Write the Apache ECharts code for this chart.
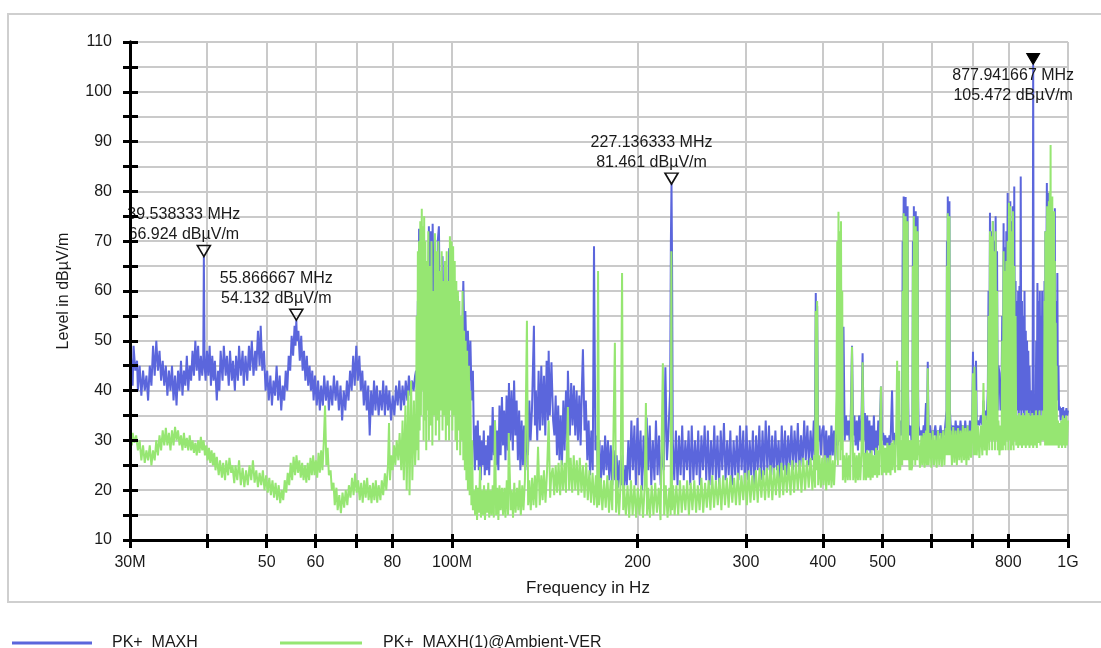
<!DOCTYPE html>
<html><head><meta charset="utf-8">
<script src="https://cdn.jsdelivr.net/npm/echarts@6/dist/echarts.min.js"></script>
<style>html,body{margin:0;padding:0;background:#fff}#c{width:1101px;height:648px}</style>
</head><body><div id="c"></div>
<script>
// ---------- axis ticks ----------
const xGridValues = [30,40,50,60,70,80,100,200,300,400,500,600,700,800,1000];
const xLabelValues = [30,50,60,80,100,200,300,400,500,800,1000];
const xLabelNames = ['30M','50','60','80','100M','200','300','400','500','800','1G'];
const yMin = 10, yMax = 110, yStep = 5;

// ---------- series names ----------
const seriesNames = ['PK+  MAXH', 'PK+  MAXH(1)@Ambient-VER'];

// ---------- markers (on PK+ MAXH) ----------
const markerFreqMHz = [39.538333, 55.866667, 227.136333, 877.941667];
const markerLevel = [66.924, 54.132, 81.461, 105.472];

// ---------- PK+ MAXH, [MHz, dBµV/m] ----------
const blueBand1 = [[30.0,43],[30.1,47],[30.3,41],[30.4,49],[30.6,44],[30.8,46],[30.9,40],[31.1,45],[31.3,39],[31.5,44],[31.7,40],[31.9,43],[32.1,38],[32.3,45],[32.5,41],[32.7,49],[32.9,43],[33.1,50],[33.3,44],[33.5,48],[33.7,42],[33.9,46],[34.1,41],[34.3,45],[34.5,39],[34.7,44],[34.9,40],[35.1,45],[35.3,38],[35.5,43],[35.7,37],[35.9,44],[36.1,40],[36.3,46],[36.5,39],[36.7,44],[36.9,41],[37.1,47],[37.3,40],[37.5,45],[37.7,42],[37.9,48],[38.1,43],[38.3,50],[38.5,44],[38.7,49],[38.9,42],[39.1,47],[39.3,43],[39.45,46],[39.538333,66.924],[39.65,45],[39.8,42],[40.0,48],[40.2,43],[40.4,49],[40.6,41],[40.8,47],[41.0,42],[41.2,46],[41.5,38],[41.7,44],[41.9,40],[42.1,48],[42.4,42],[42.6,49],[42.9,43],[43.1,47],[43.4,41],[43.6,48],[43.9,42],[44.1,46],[44.4,40],[44.6,47],[44.9,42],[45.1,49],[45.4,43],[45.7,48],[45.9,41],[46.2,47],[46.5,42],[46.8,49],[47.0,44],[47.3,50],[47.6,43],[47.9,48],[48.1,44],[48.4,52],[48.7,45],[48.9,53],[49.2,44],[49.5,48],[49.8,40],[50.1,44],[50.4,38],[50.7,43],[51.0,37],[51.3,42],[51.6,39],[51.9,45],[52.2,38],[52.5,43],[52.8,36],[53.1,41],[53.4,38],[53.7,44],[54.0,40],[54.3,47],[54.6,44],[54.9,51],[55.2,47],[55.5,53],[55.7,49],[55.866667,54.132],[56.0,50],[56.3,52],[56.6,46],[56.9,51],[57.2,44],[57.5,48],[57.8,42],[58.1,47],[58.4,41],[58.7,45],[59.0,40],[59.3,44],[59.6,38],[59.9,43],[60.3,37],[60.6,42],[61.0,36],[61.3,41],[61.7,37],[62.0,43],[62.4,38],[62.8,42],[63.1,36],[63.5,41],[63.9,37],[64.3,43],[64.7,38],[65.1,42],[65.5,36],[65.9,41],[66.3,34],[66.7,40],[67.1,36],[67.5,42],[67.9,38],[68.3,44],[68.7,40],[69.1,47],[69.5,41],[69.9,49],[70.3,42],[70.7,47],[71.1,40],[71.5,44],[71.9,37],[72.3,42],[72.7,36],[73.1,41],[73.5,31],[73.9,40],[74.3,35],[74.7,42],[75.1,36],[75.5,41],[76.0,35],[76.4,40],[76.9,36],[77.3,42],[77.8,35],[78.2,41],[78.7,36],[79.1,40],[79.6,34],[80.1,39],[80.6,35],[81.1,41],[81.6,37],[82.1,42],[82.6,36],[83.1,41],[83.6,37],[84.1,42],[84.6,38],[85.1,43],[85.6,39],[86.1,42],[86.6,40],[87.1,43]];
const blueFM = [[87.4,44],[87.7,40],[88.0,58],[88.2,46],[88.4,72.5],[88.6,60],[88.8,44],[89.0,70],[89.3,62],[89.5,42],[89.8,66],[90.1,45],[90.4,60],[90.7,41],[91.0,55],[91.3,44],[91.7,73],[92.0,52],[92.3,72],[92.6,46],[93.0,73.5],[93.3,60],[93.6,42],[94.0,62],[94.4,45],[94.8,70],[95.2,73],[95.5,58],[95.8,44],[96.2,60],[96.5,67],[96.9,48],[97.3,55],[97.7,42],[98.1,58],[98.5,48],[98.9,68.6],[99.3,64],[99.7,44],[100.1,66],[100.5,50],[100.9,40],[101.3,56],[101.7,46],[102.1,59],[102.5,52],[102.9,44],[103.3,55],[103.8,48],[104.3,62],[104.7,50],[105.1,56],[105.6,45],[106.1,52],[106.6,42],[107.1,50],[107.6,38],[108.1,44]];
const blueBand2 = [[108.5,30],[108.9,24],[109.3,33],[109.7,26],[110.1,34],[110.5,24],[110.9,31],[111.3,22],[111.7,30],[112.1,25],[112.6,32],[113.0,23],[113.5,29],[113.9,24],[114.4,31],[114.9,23],[115.4,33],[115.9,26],[116.4,36.7],[116.9,27],[117.4,34],[117.9,25],[118.4,32],[118.9,24],[119.4,37],[119.9,27],[120.5,38.7],[121.0,29],[121.5,36],[122.1,26],[122.6,39],[123.2,28],[123.7,41.5],[124.3,30],[124.9,40],[125.5,28],[126.1,42],[126.7,31],[127.3,38],[127.9,26],[128.5,36],[129.1,24],[129.7,34],[130.3,25],[130.9,33],[131.5,24],[132.2,35],[132.8,27],[133.5,38],[134.1,30],[134.8,36],[135.8,53],[136.3,33],[136.8,40],[137.5,30],[138.2,44],[138.9,32],[139.6,45],[140.3,33],[141.0,43],[141.7,31],[142.4,46],[143.1,34],[143.5,48],[144.1,35],[145.0,45.7],[145.9,34],[146.6,31],[147.3,39],[148.0,27],[148.7,37],[149.4,26],[150.1,35],[150.8,25],[151.6,38],[152.3,28],[153.1,40],[153.8,30],[154.2,44],[155.3,31],[156.1,41.5],[156.9,33],[157.7,41],[158.5,31],[159.3,40],[160.1,30],[160.9,39],[161.7,29],[162.5,41],[163.1,48.3],[164.1,32],[164.9,38],[165.8,26],[166.6,34],[167.5,23],[168.3,32],[169.2,24],[170.0,69],[170.9,28],[171.8,31],[172.6,22],[173.5,30],[174.4,21],[175.3,29],[176.3,23],[177.2,31],[178.1,24],[179.1,30],[180.0,22],[181.0,29],[182.0,21],[183.0,28],[184.0,22],[185.0,27],[186.0,20.5],[187.0,26],[188.0,21],[189.1,27],[190.1,20],[191.2,25],[192.2,21],[193.3,30],[194.4,22],[195.5,34],[196.6,24],[197.7,33],[198.8,21],[200.0,34.5],[201.1,23],[202.3,32],[203.4,20],[204.6,31],[205.8,22],[207.0,34.6],[208.2,24],[209.4,33],[210.6,21],[211.8,30],[213.1,22],[214.3,34],[215.6,23],[216.8,31],[218.1,21],[219.4,29],[220.7,24],[222.0,44.7],[223.3,26],[224.6,32],[226.0,40],[226.6,70],[227.136333,81.461],[227.6,66],[228.2,30],[229.5,22],[230.9,32],[232.3,21],[233.6,31],[235.0,23],[236.4,33],[237.8,22],[239.2,30],[240.7,24],[242.1,32],[243.6,21],[245.0,33],[246.5,22],[248.0,30],[249.5,23],[251.0,32],[252.5,21],[254.0,31],[255.5,24],[257.1,33],[258.6,22],[260.2,32],[261.8,21],[263.3,30],[264.9,23],[266.5,33],[268.1,22],[269.7,31],[271.4,21],[273.0,32],[274.6,24],[276.3,33.5],[278.0,22],[279.7,30],[281.3,23],[283.0,32],[284.7,21],[286.5,30],[288.2,23],[289.9,31],[291.7,22],[293.4,33],[295.2,24],[297.0,32],[298.8,21],[300.6,33],[302.4,22],[304.2,30],[306.0,23],[307.9,32],[309.7,21],[311.6,31],[313.5,24],[315.4,33],[317.3,22],[319.2,32],[321.1,23],[323.0,34],[325.0,24],[327.0,33],[328.9,22],[330.9,31],[332.9,23],[334.9,32],[336.9,24],[338.9,30],[341.0,22],[343.0,33],[345.1,24],[347.2,32],[349.2,23],[351.3,31],[353.4,25],[355.6,33],[357.7,24],[359.8,32],[362.0,25],[364.2,33.5],[366.4,24],[368.6,31],[370.8,25],[373.0,34],[375.2,26],[377.5,33],[379.7,25],[382.0,32],[384.3,26],[386.6,34],[388.0,27],[389.5,59.6],[390.5,40],[391.5,57],[393,30],[395,33],[397,27],[399,32]];
const blueBand3 = [[401,33],[403,26],[405,32],[407,25],[409,31],[411,26],[413,33],[415,27],[417,32],[419,26],[421,34],[423,29],[425,33],[427,30],[429,35],[430,31],[432,52.8],[434,30],[436,35],[438,31],[440,34],[442,30],[444,35.5],[446,49],[448,31],[450,35],[452,29],[454,34],[456,28],[458,35],[460,30],[462,34],[464,47.5],[466,30],[468,35.5],[470,27],[472,35],[474,28],[476,34],[478,27],[480,33],[482,28],[484,35],[486,27],[488,32],[490,28],[492,34],[494,29],[497,40.8],[499,30],[501,31.5],[503,29],[505,31],[507,29],[509,30.5],[511,28],[513,31],[515,29],[518,40],[520,30],[522,31.5],[524,29],[526,31],[528,30],[530,33],[532,30],[534,34],[536,31],[538,33],[539,70],[540,40],[541,79],[542,36],[543,74],[544,40],[545,78.9],[546,38],[547,72],[548,35],[549,77],[550,40],[551,33],[553,31],[555,33],[557,30],[559,33],[560,70],[561,36],[562,77],[563,40],[564,74],[565,35],[566,76],[567,38],[568,70],[569,36],[570,75],[571,40],[572,33],[575,31],[578,32],[580,30],[583,33],[585,31],[588,37.5],[590,31],[592,45.8],[594,31],[597,33],[600,30],[603,32],[606,31],[609,33],[612,30],[615,32],[618,31],[621,33],[624,30],[627,32],[630,31],[633,34],[635,36],[636,70],[637,40],[638,79],[639,38],[640,76],[641,40],[642,78],[643,36],[645,33],[648,31],[651,33],[654,30],[657,34],[660,31],[663,33],[666,30],[669,34],[672,31],[675,33],[678,30],[681,34],[684,31],[687,33],[690,30],[693,34],[696,31],[699,34],[701,47.8],[703,36],[705,44],[707,34],[709,46],[711,33],[714,34],[718,33],[722,35],[726,33],[729,38],[732,34],[735,36],[738,34],[741,40],[743,60],[745,38],[747,75.7],[749,40],[751,72],[753,38],[755,74],[757,40],[759,70],[761,38],[763,75],[765,40],[767,68],[769,36],[771,45],[774,43.5],[777,36],[780,40],[782,55],[784,38],[786,73.6],[788,40],[790,68.8],[792,38],[794,72],[796,42],[798,79.7],[800,40],[802,76],[804,38],[806,78],[808,42],[810,74],[812,40],[814,77],[816,38],[818,81],[820,40],[822,62],[824,35],[826,58],[828,36],[830,60],[832,35],[834,61],[836,36],[838,83],[840,35],[842,58],[844,36],[846,55],[848,35],[850,60],[852,36],[854,52],[856,35],[858,50],[860,36],[862,48],[864,35],[866,45],[868,36],[870,40],[872,34],[874,37],[876,35],[877.941667,105.472],[880,36],[882,35],[884,37],[886,35],[888,50],[890,36],[892,61.6],[894,35],[896,58],[898,36],[900,60],[902,35],[904,55],[906,36],[908,60],[910,35],[912,50],[914,36],[916,62],[918,38],[919,72],[920,40],[922,60],[924,81.7],[925,40],[926,74],[927,42],[928,79.7],[929,40],[931,72],[932,38],[934,78],[935,40],[937,70],[938,38],[940,77],[941,40],[943,68],[944,38],[946,74],[947,40],[949,70],[950,38],[952,76.6],[953,40],[955,58],[957,42],[958,50],[960,40],[961,63.6],[963,38],[965,45],[967,36],[970,36.8],[973,34],[976,36.5],[979,35],[982,36.7],[985,34],[988,36],[991,35],[994,36.5],[997,35],[1000,36]];

// ---------- PK+ MAXH(1)@Ambient-VER, [MHz, dBµV/m] ----------
const greenBand1 = [[30.0,31],[30.2,29],[30.3,31.5],[30.5,29.5],[30.7,31],[30.9,28],[31.1,30],[31.3,26],[31.5,29],[31.7,25.5],[31.9,28],[32.1,26],[32.3,29],[32.5,25],[32.7,28],[32.9,26],[33.1,30],[33.3,27],[33.5,31],[33.7,28],[33.9,32],[34.1,29],[34.3,32.5],[34.5,29],[34.7,31.5],[34.9,28],[35.1,32],[35.3,29],[35.5,32.7],[35.7,30],[35.9,32],[36.1,29],[36.3,31],[36.5,28],[36.7,31.5],[36.9,28.5],[37.1,30.5],[37.3,28],[37.5,31],[37.7,28],[37.9,30],[38.1,27.5],[38.3,29.5],[38.5,27],[38.7,30],[38.9,27.5],[39.1,30.7],[39.3,28],[39.5,30],[39.7,27],[39.9,29],[40.1,26],[40.3,28.5],[40.5,25.5],[40.7,28],[40.9,25],[41.1,27.5],[41.3,24],[41.5,26.7],[41.8,23],[42.0,26],[42.3,22.5],[42.5,25.5],[42.8,22],[43.0,26],[43.3,23],[43.5,26.5],[43.8,23.5],[44.0,25],[44.3,21.4],[44.5,25],[44.8,22],[45.1,26],[45.4,21],[45.7,24.5],[46.0,20.6],[46.3,24],[46.6,21],[46.9,25],[47.2,22],[47.5,26],[47.8,21.5],[48.1,24],[48.4,20.6],[48.7,23.5],[49.0,21],[49.3,24],[49.6,20],[49.9,23],[50.2,19.5],[50.5,22.5],[50.8,19],[51.1,22],[51.4,18.5],[51.7,21.5],[52.0,18],[52.3,21],[52.6,17.4],[52.9,20],[53.2,18],[53.5,22],[53.8,19.5],[54.1,23.5],[54.4,21],[54.7,25.5],[55.0,22],[55.3,26.7],[55.6,23],[55.9,27],[56.2,23.5],[56.5,26],[56.8,22.5],[57.1,25.5],[57.4,22],[57.7,25],[58.0,21.5],[58.3,25.5],[58.6,22],[58.9,26.5],[59.2,23],[59.5,27],[59.8,23],[60.1,26],[60.4,22.5],[60.7,27.5],[61.0,23.5],[61.3,28],[61.6,24],[61.9,29.5],[62.2,37],[62.5,25],[62.8,28.5],[63.1,23],[63.5,24],[63.8,20],[64.2,21.5],[64.5,17],[64.9,20.5],[65.2,16],[65.6,19],[66.0,15.4],[66.4,19.5],[66.8,16.5],[67.2,20],[67.6,17],[68.0,21],[68.4,18.5],[68.8,22.5],[69.2,19],[69.6,23.4],[70.0,19.5],[70.4,22],[70.8,18],[71.2,21.5],[71.6,17.5],[72.0,22],[72.4,18.5],[72.8,22.5],[73.2,18],[73.6,21],[74.0,17.4],[74.4,21.5],[74.8,18],[75.2,22],[75.6,17.5],[76.0,21],[76.5,18],[76.9,22],[77.3,19],[77.8,23.4],[78.2,20],[78.7,25],[79.0,33.5],[79.3,22],[79.7,27],[80.1,24],[80.5,29],[80.9,25],[81.3,30],[81.8,26],[82.2,31.5],[82.7,24],[83.1,34],[83.5,22],[84.0,37],[84.4,20],[84.9,40],[85.3,19],[85.8,42],[86.2,22],[86.7,38],[87.1,25]];
const greenFM = [[87.4,30],[87.6,55],[87.8,28],[88.0,68],[88.2,26],[88.4,70],[88.6,32],[88.8,74],[89.0,35],[89.3,76.5],[89.5,40],[89.7,73],[89.9,30],[90.1,75],[90.3,34],[90.5,70],[90.8,28],[91.0,66],[91.2,36],[91.5,72],[91.7,30],[92.0,65],[92.3,33],[92.6,70],[92.9,29],[93.2,60],[93.5,35],[93.8,71.6],[94.1,31],[94.4,68],[94.7,34],[95.0,70],[95.3,30],[95.6,64],[95.9,36],[96.2,68],[96.5,32],[96.8,62],[97.1,35],[97.4,66],[97.7,30],[98.0,68],[98.3,33],[98.6,62],[98.9,30],[99.2,71],[99.5,36],[99.8,70],[100.1,32],[100.4,69],[100.7,35],[101.0,66],[101.3,30],[101.6,62],[101.9,28],[102.2,60],[102.5,32],[102.8,58],[103.1,27],[103.4,55],[103.7,30],[104.0,60],[104.3,26],[104.6,52],[104.9,24],[105.2,50],[105.5,22],[105.8,48],[106.1,20],[106.5,45],[106.8,19],[107.1,40],[107.5,17],[107.8,30],[108.1,16]];
const greenBand2 = [[108.6,20],[109.0,15],[109.4,21],[109.8,14],[110.2,20.5],[110.6,15.5],[111.0,24.7],[111.4,14.5],[111.8,20],[112.2,15],[112.7,21],[113.1,14],[113.6,20],[114.0,15.5],[114.5,21.5],[114.9,14.5],[115.4,20],[115.9,15],[116.4,21],[116.9,14.5],[117.4,34],[117.9,15],[118.4,20.5],[118.9,14],[119.4,21],[119.9,16],[120.5,20.5],[121.0,15],[121.6,20.5],[122.1,14.5],[122.7,22],[123.3,15],[123.6,31.5],[124.5,16],[125.0,20],[125.6,14.5],[126.2,21.5],[126.8,15.5],[127.5,20.5],[128.1,16],[128.7,22],[129.3,15],[130.0,21],[130.6,16],[131.3,22],[132.3,54],[132.9,17],[133.5,22],[134.2,16],[134.9,22.5],[135.6,17],[136.3,23],[137.0,16.5],[137.9,28.7],[138.8,17],[139.6,23],[140.3,18],[141.0,24],[141.8,17.5],[142.6,23.5],[143.5,34],[144.3,18.5],[144.9,23],[145.7,24.5],[146.5,19],[147.3,25],[148.1,19.5],[148.9,25.5],[149.8,19],[150.6,26],[151.4,20],[152.3,25.5],[153.1,19.5],[154.2,36.7],[154.9,20],[155.8,26.5],[156.7,19.5],[157.6,27],[158.5,20],[159.4,26],[160.3,19],[161.2,26.5],[162.2,19.5],[163.1,25],[164.1,18.5],[165.1,25.5],[166.1,18],[167.1,24],[168.1,17.5],[169.1,23.5],[170.1,17],[171.2,23],[172.0,16.5],[172.6,64],[173.3,17],[174.3,22.5],[175.4,16],[176.5,22],[177.6,16.5],[178.7,23],[179.8,15.5],[180.9,22],[182.0,16],[183.8,49.6],[184.6,15.5],[185.5,22],[186.7,15],[187.8,21.5],[188.8,63.6],[189.6,16],[190.2,21],[191.5,15],[192.7,21],[193.9,14.5],[195.2,22],[196.4,15],[197.7,21],[199.0,14.5],[200.2,20.5],[201.5,15],[202.8,21],[204.2,14.5],[205.5,21],[206.4,37.5],[207.3,15],[208.2,20.5],[209.5,14.5],[210.9,21],[212.3,15],[213.7,21.5],[215.1,15.5],[216.5,20.5],[218.0,14],[219.9,45.5],[221.0,15],[222.3,21],[223.8,14.5],[225.3,20.5],[226.4,15],[227.0,68],[227.6,16],[228.5,21],[229.8,15],[231.3,21],[232.9,15],[234.4,22],[236.0,15.5],[237.6,21],[239.2,16],[240.8,22],[242.4,15],[244.0,21.5],[245.6,16],[247.3,22],[249.0,15.5],[250.6,21],[252.3,16],[254.0,22.5],[255.7,15.5],[257.5,21.5],[259.2,16.5],[261.0,22],[262.7,16],[264.5,23],[266.3,16.5],[268.1,22],[270.0,17],[271.8,22.5],[273.7,16],[275.5,23],[277.4,17],[279.3,22.5],[281.2,16.5],[283.1,23],[285.1,17.5],[287.0,22.5],[289.0,17],[291.0,23.5],[293.0,17],[295.0,23],[297.0,18],[299.0,23.5],[301.0,17],[303.1,24],[305.1,17.5],[307.2,23],[309.3,18],[311.4,24],[313.5,17.5],[315.7,24.5],[317.8,18.5],[320.0,24],[322.2,18],[324.4,24.5],[326.6,18.5],[328.8,25],[331.1,18],[333.3,24.5],[335.6,19],[337.9,25],[340.2,18.5],[342.5,25.5],[344.9,19],[347.2,25],[349.6,19.5],[352.0,25.5],[354.4,19],[356.8,26],[359.2,19.5],[361.7,25.5],[364.2,20],[366.7,26],[369.2,19.5],[371.7,26.5],[374.2,20],[376.8,26],[379.4,20.5],[382.0,26.5],[384.6,20],[387.2,27],[388.5,20.5],[389.5,56],[390.5,24],[391.5,58],[393,21],[395,27],[397,20.5],[399,26.5]];
const greenBand3 = [[401,21],[403,27],[405,20],[407,26.5],[409,21],[411,27],[413,20.5],[415,26],[417,21],[419,27],[421,40],[422,70],[423,25],[424,75.9],[425,30],[426,72],[427,26],[428,74],[429,28],[430,60],[431,22],[433,27],[435,21.5],[437,27.5],[439,22],[441,27],[443,22],[446,48.8],[448,22],[450,27.5],[452,21.5],[454,27],[456,22],[458,27.5],[460,22],[462,27],[464,45.7],[466,22],[468,27.5],[470,22],[472,28],[474,22.5],[476,27.5],[478,22],[480,28],[482,22.5],[484,27],[486,23],[488,28.5],[490,22.5],[492,28],[494,23],[497,40.8],[499,23],[501,29],[503,23.5],[505,28.5],[507,23],[509,29.5],[511,23.5],[513,29],[515,23],[517,29.5],[519,24],[521,30],[524,23.5],[526,31],[528,46],[530,24],[532,44],[534,24],[536,30],[538,25],[539,60],[540,28],[541,75.6],[542,26],[543,70],[544,27],[545,75],[546,26],[547,68],[548,27],[549,74],[550,26],[551,30],[553,24],[555,30],[557,24],[559,25],[560,65],[561,26],[562,75],[563,27],[564,70],[565,25],[566,73],[567,27],[568,66],[569,26],[570,72],[571,27],[572,30],[575,24.5],[578,31],[580,25],[583,31.5],[585,24.5],[588,32],[590,25],[592,44.5],[594,25],[597,31.5],[600,24.5],[603,32],[606,25],[609,31],[612,24.5],[615,32],[618,25],[621,31.5],[624,24.7],[627,32],[630,25],[633,32.5],[635,27],[636,65],[637,28],[638,75.6],[639,27],[640,72],[641,28],[642,75],[643,27],[645,32],[648,25],[651,32.7],[654,25.5],[657,32],[660,25],[663,32.5],[666,26],[669,32],[672,25.5],[675,33],[678,26],[681,32.5],[684,25],[687,33],[690,26],[693,32],[696,26.5],[699,33],[701,43.5],[703,27],[705,44.8],[707,27],[709,40],[711,27],[714,33],[718,26.5],[722,33],[726,27],[729,41.5],[732,28],[735,35],[738,27],[741,33],[743,55],[745,28],[747,72],[749,30],[751,71],[753,28],[755,74],[757,30],[759,68],[761,28],[763,72],[765,30],[767,60],[769,28],[771,34],[774,27],[777,33],[780,28],[782,50],[784,28],[786,68],[788,29],[790,64],[792,28],[794,66],[796,30],[798,70],[800,28],[802,77.7],[804,30],[806,77],[808,28],[810,72],[812,29],[814,76],[816,28],[818,65],[820,30],[822,55],[824,29],[827,35],[830,28.5],[833,35.5],[836,29],[839,35],[842,28.5],[845,35.5],[848,29],[851,35],[854,28.5],[857,36],[860,29],[863,35.5],[866,28.5],[869,35],[872,29],[875,35.5],[878,28.5],[881,35],[884,29],[887,36],[890,28.5],[893,35],[896,29.5],[899,36],[902,29],[905,35],[908,30],[911,36],[914,30],[916,58],[918,29],[919,72],[920,30],[922,66],[923,29],[925,77],[926,30],[928,70],[929,29],[931,78],[932,30],[934,80],[935,29],[937,89.3],[938,30],[940,76],[941,29],[943,79],[944,30],[946,72],[947,29],[949,76],[950,30],[952,66],[953,29],[955,53.6],[957,30],[958,45],[960,29],[963,34],[966,28.5],[969,33.5],[972,29],[975,34],[978,28.5],[981,35],[984,29],[987,34.5],[990,28.5],[993,35],[996,29],[1000,34]];

const blueData = blueBand1.concat(blueFM, blueBand2, blueBand3);
const greenData = greenBand1.concat(greenFM, greenBand2, greenBand3);

// ---------- styling ----------
const FONT = 'Liberation Sans, Arial, Helvetica, sans-serif';
const BLUE = '#5b66dc';
const GREEN = '#96e672';
const GRIDC = '#cacaca';

const markerData = markerFreqMHz.map((f, i) => {
  const last = i === markerFreqMHz.length - 1;
  return {
    coord: [f, markerLevel[i]],
    value: markerLevel[i],
    symbol: 'triangle',
    symbolSize: [13, 11],
    symbolRotate: 180,
    symbolOffset: [0, '-50%'],
    itemStyle: last ? {color: '#000', borderColor: '#000', borderWidth: 1}
                    : {color: 'rgba(255,255,255,0)', borderColor: '#111', borderWidth: 1.6},
    label: {
      show: true,
      formatter: f.toFixed(6) + ' MHz\n' + markerLevel[i].toFixed(3) + ' dBµV/m',
      position: last ? 'bottom' : 'top',
      distance: last ? 1 : 0,
      offset: [-20, 0],
      color: '#1a1a1a',
      fontFamily: FONT,
      fontSize: 16,
      lineHeight: 20,
      align: 'center'
    }
  };
});

const xLabelFmt = v => {
  const k = xLabelValues.findIndex(t => Math.abs(t - v) < 1e-6 * t);
  return k >= 0 ? xLabelNames[k] : '';
};

const chart = echarts.init(document.getElementById('c'), null, {renderer: 'canvas'});
chart.setOption({
  animation: false,
  backgroundColor: '#fff',
  grid: {left: 130, right: 33, top: 42, bottom: 108, containLabel: false},
  graphic: [{
    type: 'rect', z: -10, silent: true,
    shape: {x: 8, y: 14, width: 1110, height: 588},
    style: {fill: 'none', stroke: '#cfcfcf', lineWidth: 2}
  }],
  legend: [
    {data: [seriesNames[0]], left: 7, top: 630, itemWidth: 80, itemHeight: 3, icon: 'rect',
     textStyle: {fontFamily: FONT, fontSize: 16, color: '#1a1a1a', padding: [0, 0, 0, 15]}, selectedMode: false},
    {data: [seriesNames[1]], left: 275, top: 630, itemWidth: 82, itemHeight: 3, icon: 'rect',
     textStyle: {fontFamily: FONT, fontSize: 16, color: '#1a1a1a', padding: [0, 0, 0, 16]}, selectedMode: false}
  ],
  xAxis: [{
    type: 'log', logBase: 10, min: 30, max: 1000,
    name: 'Frequency in Hz', nameLocation: 'middle', nameGap: 40,
    nameTextStyle: {fontFamily: FONT, fontSize: 17, color: '#1a1a1a', padding: [0, 22, 0, 0]},
    axisLine: {show: true, lineStyle: {color: '#000', width: 3}},
    axisTick: {show: true, customValues: xGridValues, length: 8, lineStyle: {color: '#000', width: 3}},
    axisLabel: {show: true, customValues: xLabelValues, formatter: xLabelFmt, margin: 15,
                fontFamily: FONT, fontSize: 16, color: '#1a1a1a'},
    splitLine: {show: true, lineStyle: {color: GRIDC, width: 2}},
    minorTick: {show: false}, minorSplitLine: {show: false}
  }, {
    type: 'log', logBase: 10, min: 30, max: 1000, position: 'bottom', z: 10,
    axisLine: {show: true, lineStyle: {color: '#000', width: 3}},
    axisTick: {show: true, inside: true, customValues: xGridValues, length: 6, lineStyle: {color: '#000', width: 3}},
    axisLabel: {show: false}, splitLine: {show: false}
  }],
  yAxis: [{
    type: 'value', min: yMin, max: yMax, interval: yStep,
    name: 'Level in dBµV/m', nameLocation: 'middle', nameGap: 58, nameRotate: 90,
    nameTextStyle: {fontFamily: FONT, fontSize: 16, color: '#1a1a1a'},
    axisLine: {show: true, lineStyle: {color: '#000', width: 3}},
    axisTick: {show: true, length: 7, lineStyle: {color: '#000', width: 3}},
    axisLabel: {formatter: v => (v % 10 === 0 ? String(v) : ''), margin: 18,
                fontFamily: FONT, fontSize: 16, color: '#1a1a1a'},
    splitLine: {show: true, lineStyle: {color: GRIDC, width: 2}}
  }, {
    type: 'value', min: yMin, max: yMax, interval: yStep, position: 'left', z: 10,
    axisLine: {show: true, lineStyle: {color: '#000', width: 3}},
    axisTick: {show: true, inside: true, length: 8, lineStyle: {color: '#000', width: 3}},
    axisLabel: {show: false}, splitLine: {show: false}
  }],
  series: [{
    name: seriesNames[0], type: 'line', xAxisIndex: 0, yAxisIndex: 0,
    data: blueData, showSymbol: false, symbol: 'none', color: BLUE,
    lineStyle: {color: BLUE, width: 2}, z: 2,
    markPoint: {data: markerData, animation: false}
  }, {
    name: seriesNames[1], type: 'line', xAxisIndex: 0, yAxisIndex: 0,
    data: greenData, showSymbol: false, symbol: 'none', color: GREEN,
    lineStyle: {color: GREEN, width: 2}, z: 3
  }]
});
</script>
</body></html>
